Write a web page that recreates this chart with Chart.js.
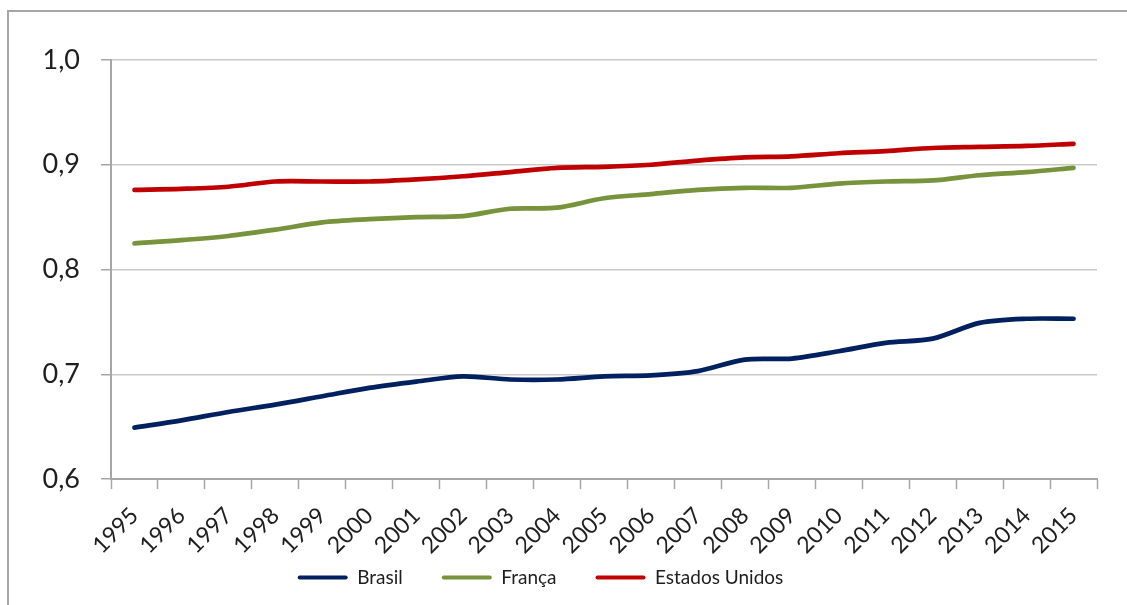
<!DOCTYPE html>
<html lang="pt-BR">
<head>
<meta charset="utf-8">
<title>IDH 1995-2015</title>
<script src="https://cdn.jsdelivr.net/npm/chart.js@4.4.1/dist/chart.umd.min.js"></script>
<style>
    html, body {
        margin: 0;
        padding: 0;
        background: #ffffff;
        overflow: hidden;
    }
    #frame {
        position: absolute;
        left: 7px;
        top: 10px;
        width: 1200px;
        height: 700px;
        border-left: 2px solid #a6a6a6;
        border-top: 2px solid #a6a6a6;
    }
    #wrap {
        position: absolute;
        left: 0;
        top: 0;
        width: 1127px;
        height: 605px;
    }
</style>
</head>
<body>
<div id="frame"></div>
<div id="wrap"><canvas id="idh-chart"></canvas></div>
<script>
// Anos e valores do IDH por país
const anos = ['1995', '1996', '1997', '1998', '1999', '2000', '2001', '2002', '2003', '2004', '2005',
              '2006', '2007', '2008', '2009', '2010', '2011', '2012', '2013', '2014', '2015'];
const brasil = [0.649, 0.656, 0.664, 0.671, 0.679, 0.687, 0.693, 0.698, 0.695, 0.695, 0.698,
                0.699, 0.703, 0.714, 0.715, 0.722, 0.730, 0.734, 0.749, 0.753, 0.753];
const franca = [0.825, 0.828, 0.832, 0.838, 0.845, 0.848, 0.850, 0.851, 0.858, 0.859, 0.868,
                0.872, 0.876, 0.878, 0.878, 0.882, 0.884, 0.885, 0.890, 0.893, 0.897];
const estadosUnidos = [0.876, 0.877, 0.879, 0.884, 0.884, 0.884, 0.886, 0.889, 0.893, 0.897, 0.898,
                       0.900, 0.904, 0.907, 0.908, 0.911, 0.913, 0.916, 0.917, 0.918, 0.920];

// Eixo Y: 0,6 até 1,0
const eixoMin = 0.6;
const eixoMax = 1.0;
const eixoPasso = 0.1;

const FONTE = "Lato, 'Open Sans', sans-serif";
const COR_TEXTO = '#1e1e1e';
const COR_EIXO = '#a6a6a6';
const COR_GRADE = '#c9c9c9';

function serie(nome, valores, cor) {
    return {
        label: nome,
        data: valores,
        borderColor: cor,
        backgroundColor: cor,
        borderWidth: 4.7,
        borderCapStyle: 'round',
        borderJoinStyle: 'round',
        tension: 0.3,
        pointRadius: 0,
        pointHoverRadius: 0,
        fill: false
    };
}

// Os anos inclinados passam da caixa do eixo X; estende a área de corte até o fim do canvas
const anosSemCorte = {
    id: 'anosSemCorte',
    afterLayout(chart) {
        chart.scales.x.bottom = chart.height;
    }
};

const ctx = document.getElementById('idh-chart').getContext('2d');

new Chart(ctx, {
    type: 'line',
    data: {
        labels: anos,
        datasets: [
            serie('Brasil', brasil, '#002060'),
            serie('França', franca, '#77933c'),
            serie('Estados Unidos', estadosUnidos, '#c00000')
        ]
    },
    plugins: [anosSemCorte],
    options: {
        responsive: true,
        maintainAspectRatio: false,
        animation: false,
        layout: {
            padding: { top: 60, right: 30, bottom: 16, left: -16 }
        },
        scales: {
            x: {
                offset: true,
                grid: {
                    offset: true,
                    drawOnChartArea: false,
                    drawTicks: true,
                    tickLength: 10,
                    tickColor: COR_EIXO,
                    tickWidth: 1.5
                },
                border: { color: COR_EIXO, width: 2 },
                ticks: {
                    autoSkip: false,
                    minRotation: 45,
                    maxRotation: 45,
                    padding: 13,
                    color: COR_TEXTO,
                    font: { family: FONTE, size: 23 }
                },
                afterFit(scale) {
                    scale.height = 50;
                }
            },
            y: {
                min: eixoMin,
                max: eixoMax,
                grid: {
                    color: COR_GRADE,
                    lineWidth: 1.5,
                    tickLength: 10,
                    tickColor: COR_EIXO,
                    tickWidth: 1.5
                },
                border: { color: COR_EIXO, width: 2 },
                ticks: {
                    stepSize: eixoPasso,
                    padding: 21,
                    color: COR_TEXTO,
                    font: { family: FONTE, size: 27 },
                    callback: (v) => Number(v).toFixed(1).replace('.', ',')
                },
                afterFit(scale) {
                    scale.width = 127;
                }
            }
        },
        plugins: {
            tooltip: { enabled: false },
            legend: {
                position: 'bottom',
                // o padding entre itens também entra na altura; limita a caixa
                maxHeight: 60,
                labels: {
                    boxWidth: 50,
                    boxHeight: 4,
                    padding: 39,
                    useBorderRadius: true,
                    borderRadius: 2,
                    color: COR_TEXTO,
                    font: { family: FONTE, size: 19 },
                    generateLabels(chart) {
                        const itens = Chart.defaults.plugins.legend.labels.generateLabels(chart);
                        return itens.map(item => ({ ...item, lineWidth: 0 }));
                    }
                }
            }
        }
    }
});
</script>
</body>
</html>
